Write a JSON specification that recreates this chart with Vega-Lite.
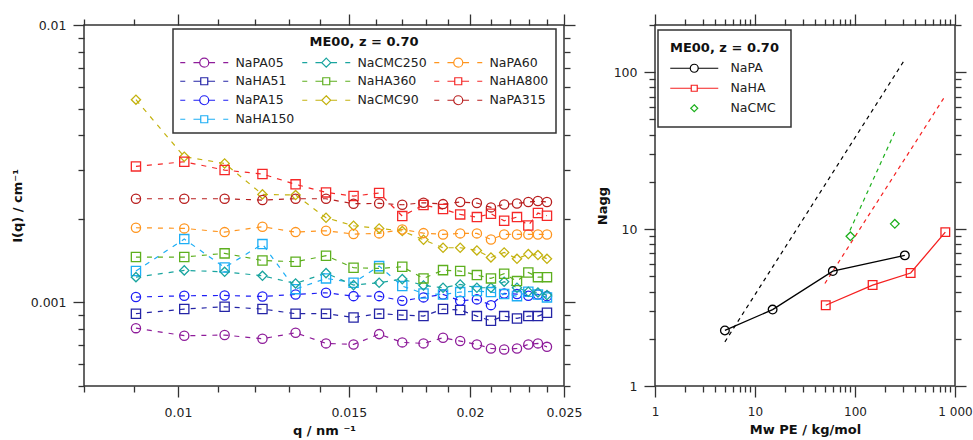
{
"$schema": "https://vega.github.io/schema/vega-lite/v6.json",
"background": "white",
"padding": {"left": 10, "top": 12, "right": 0, "bottom": 0},
"spacing": 12,
"config": {
  "font": "DejaVu Sans",
  "view": {"stroke": "#333333", "strokeWidth": 1.5},
  "axis": {"grid": false, "domain": false, "tickColor": "#333333", "tickWidth": 1.3, "labelFont": "DejaVu Sans", "labelFontSize": 12.5, "labelColor": "#222222", "titleFont": "DejaVu Sans", "titleFontSize": 13, "titleFontWeight": "bold", "titleColor": "#111111", "labelFlush": false, "labelOverlap": false},
  "legend": {"strokeWidth": 1.5, "labelFont": "DejaVu Sans", "labelFontSize": 12.5, "labelColor": "#222222", "titleFont": "DejaVu Sans", "titleFontSize": 13, "titleFontWeight": "bold", "titleColor": "#111111"}
},
"datasets": {
  "iq": [
    {"q":0.00905,"NaPA05":0.000808,"NaHA51":0.000911,"NaPA15":0.001046,"NaHA150":0.001298,"NaCMC250":0.001234,"NaHA360":0.001458,"NaCMC90":0.005379,"NaPA60":0.001859,"NaHA800":0.003093,"NaPA315":0.002365},
    {"q":0.01015,"NaPA05":0.000759,"NaHA51":0.000947,"NaPA15":0.001057,"NaHA150":0.001692,"NaCMC250":0.001305,"NaHA360":0.001458,"NaCMC90":0.003351,"NaPA60":0.001849,"NaHA800":0.003215,"NaPA315":0.002365},
    {"q":0.01117,"NaPA05":0.000763,"NaHA51":0.000965,"NaPA15":0.00106,"NaHA150":0.001337,"NaCMC250":0.00129,"NaHA360":0.001503,"NaCMC90":0.003171,"NaPA60":0.001793,"NaHA800":0.003001,"NaPA315":0.002365},
    {"q":0.01222,"NaPA05":0.00074,"NaHA51":0.000947,"NaPA15":0.001051,"NaHA150":0.001623,"NaCMC250":0.001248,"NaHA360":0.001417,"NaCMC90":0.002452,"NaPA60":0.001875,"NaHA800":0.002903,"NaPA315":0.002339},
    {"q":0.01322,"NaPA05":0.000778,"NaHA51":0.000911,"NaPA15":0.001069,"NaHA150":0.001117,"NaCMC250":0.001171,"NaHA360":0.001402,"NaCMC90":0.002438,"NaPA60":0.001793,"NaHA800":0.002665,"NaPA315":0.002365},
    {"q":0.01421,"NaPA05":0.000712,"NaHA51":0.000911,"NaPA15":0.001084,"NaHA150":0.001221,"NaCMC250":0.001276,"NaHA360":0.001474,"NaCMC90":0.00202,"NaPA60":0.001813,"NaHA800":0.002493,"NaPA315":0.002365},
    {"q":0.01517,"NaPA05":0.000706,"NaHA51":0.000883,"NaPA15":0.001054,"NaHA150":0.001178,"NaCMC250":0.001155,"NaHA360":0.001334,"NaCMC90":0.00189,"NaPA60":0.001764,"NaHA800":0.002418,"NaPA315":0.002269},
    {"q":0.01612,"NaPA05":0.000769,"NaHA51":0.000911,"NaPA15":0.001054,"NaHA150":0.001352,"NaCMC250":0.001178,"NaHA360":0.001326,"NaCMC90":0.001849,"NaPA60":0.001774,"NaHA800":0.002479,"NaPA315":0.002275},
    {"q":0.01703,"NaPA05":0.000718,"NaHA51":0.000901,"NaPA15":0.001014,"NaHA150":0.001146,"NaCMC250":0.001214,"NaHA360":0.001345,"NaCMC90":0.001809,"NaPA60":0.001833,"NaHA800":0.002048,"NaPA315":0.00225},
    {"q":0.01791,"NaPA05":0.000712,"NaHA51":0.000893,"NaPA15":0.001043,"NaHA150":0.001078,"NaCMC250":0.001152,"NaHA360":0.001221,"NaCMC90":0.001683,"NaPA60":0.001778,"NaHA800":0.002244,"NaPA315":0.002288},
    {"q":0.01876,"NaPA05":0.000746,"NaHA51":0.000947,"NaPA15":0.001069,"NaHA150":0.001069,"NaCMC250":0.00113,"NaHA360":0.001308,"NaCMC90":0.001575,"NaPA60":0.001759,"NaHA800":0.002171,"NaPA315":0.002262},
    {"q":0.01954,"NaPA05":0.000726,"NaHA51":0.000939,"NaPA15":0.001014,"NaHA150":0.00109,"NaCMC250":0.001161,"NaHA360":0.001298,"NaCMC90":0.001575,"NaPA60":0.001774,"NaHA800":0.002077,"NaPA315":0.002301},
    {"q":0.02033,"NaPA05":0.000706,"NaHA51":0.000893,"NaPA15":0.001026,"NaHA150":0.001099,"NaCMC250":0.00113,"NaHA360":0.001255,"NaCMC90":0.00154,"NaPA60":0.001774,"NaHA800":0.002031,"NaPA315":0.002282},
    {"q":0.02102,"NaPA05":0.000683,"NaHA51":0.000859,"NaPA15":0.000978,"NaHA150":0.00109,"NaCMC250":0.00113,"NaHA360":0.001221,"NaCMC90":0.001453,"NaPA60":0.001687,"NaHA800":0.002088,"NaPA315":0.002201},
    {"q":0.02169,"NaPA05":0.000677,"NaHA51":0.000893,"NaPA15":0.001078,"NaHA150":0.001072,"NaCMC250":0.001188,"NaHA360":0.001269,"NaCMC90":0.001515,"NaPA60":0.001759,"NaHA800":0.00197,"NaPA315":0.002256},
    {"q":0.02236,"NaPA05":0.000683,"NaHA51":0.000876,"NaPA15":0.001072,"NaHA150":0.001054,"NaCMC250":0.00113,"NaHA360":0.001194,"NaCMC90":0.001437,"NaPA60":0.001759,"NaHA800":0.002031,"NaPA315":0.002275},
    {"q":0.02297,"NaPA05":0.000706,"NaHA51":0.000893,"NaPA15":0.001057,"NaHA150":0.001093,"NaCMC250":0.001093,"NaHA360":0.001283,"NaCMC90":0.001494,"NaPA60":0.001759,"NaHA800":0.001895,"NaPA315":0.002301},
    {"q":0.0235,"NaPA05":0.000712,"NaHA51":0.000893,"NaPA15":0.001069,"NaHA150":0.001069,"NaCMC250":0.001087,"NaHA360":0.001234,"NaCMC90":0.001482,"NaPA60":0.001759,"NaHA800":0.0021,"NaPA315":0.00232},
    {"q":0.02401,"NaPA05":0.000692,"NaHA51":0.000918,"NaPA15":0.001054,"NaHA150":0.001043,"NaCMC250":0.001063,"NaHA360":0.001234,"NaCMC90":0.001437,"NaPA60":0.001759,"NaHA800":0.002054,"NaPA315":0.002301}
  ],
  "nagg": [
    {"g":"NaPA","Mw":5,"N":2.26},{"g":"NaPA","Mw":15,"N":3.07},{"g":"NaPA","Mw":60,"N":5.4},{"g":"NaPA","Mw":315,"N":6.8},
    {"g":"NaHA","Mw":51,"N":3.27},{"g":"NaHA","Mw":150,"N":4.4},{"g":"NaHA","Mw":360,"N":5.25},{"g":"NaHA","Mw":800,"N":9.57},
    {"g":"NaCMC","Mw":90,"N":9.0},{"g":"NaCMC","Mw":250,"N":10.8}
  ],
  "fit": [
    {"g":"NaPA","Mw":5,"N":1.91},{"g":"NaPA","Mw":311,"N":119},
    {"g":"NaHA","Mw":50,"N":4.5},{"g":"NaHA","Mw":794,"N":70.3},
    {"g":"NaCMC","Mw":89,"N":9.8},{"g":"NaCMC","Mw":251,"N":41.7}
  ]
},
"hconcat": [
  {
    "width": 480, "height": 361,
    "data": {"name": "iq"},
    "transform": [{"fold": ["NaPA05","NaHA51","NaPA15","NaHA150","NaCMC250","NaHA360","NaCMC90","NaPA60","NaHA800","NaPA315"], "as": ["s","I"]}],
    "layer": [
      {"mark": {"type": "line", "strokeDash": [5,6], "strokeWidth": 1.2},
       "encoding": {
         "x": {"field": "q", "type": "quantitative", "scale": {"type": "log", "domain": [0.008,0.025], "nice": false}, "axis": {"orient": "bottom", "values": [0.01,0.015,0.02,0.025], "tickSize": 11, "format": "~g", "labelPadding": 9, "title": "q / nm ⁻¹", "titlePadding": 6}},
         "y": {"field": "I", "type": "quantitative", "scale": {"type": "log", "domain": [0.0005,0.01], "nice": false}, "axis": {"orient": "left", "values": [0.001,0.01], "tickSize": 11, "format": "~g", "labelPadding": 7, "title": "I(q) / cm⁻¹", "titlePadding": 6}},
         "color": {"field": "s", "type": "nominal", "scale": {"domain": ["NaPA05","NaHA51","NaPA15","NaHA150","NaCMC250","NaHA360","NaCMC90","NaPA60","NaHA800","NaPA315"], "range": ["#8E1C9A","#2424A6","#1E1EF5","#1EAEF5","#1AA59F","#5DAF1E","#C4B20F","#FF951E","#F52828","#B81E1E"]}, "legend": null}
       }},
      {"mark": {"type": "point", "filled": false, "opacity": 1, "size": 85, "strokeWidth": 1.3},
       "encoding": {
         "x": {"field": "q", "type": "quantitative", "scale": {"type": "log", "domain": [0.008,0.025], "nice": false}, "axis": {"orient": "bottom", "values": [0.008,0.009,0.011,0.012,0.013,0.014,0.016,0.017,0.018,0.019,0.021,0.022,0.023,0.024], "tickSize": 6, "labels": false, "title": null}},
         "y": {"field": "I", "type": "quantitative", "scale": {"type": "log", "domain": [0.0005,0.01], "nice": false}, "axis": {"orient": "left", "values": [0.0005,0.0006,0.0007,0.0008,0.0009,0.002,0.003,0.004,0.005,0.006,0.007,0.008,0.009], "tickSize": 6, "labels": false, "title": null}},
         "color": {"field": "s", "type": "nominal", "scale": {"domain": ["NaPA05","NaHA51","NaPA15","NaHA150","NaCMC250","NaHA360","NaCMC90","NaPA60","NaHA800","NaPA315"], "range": ["#8E1C9A","#2424A6","#1E1EF5","#1EAEF5","#1AA59F","#5DAF1E","#C4B20F","#FF951E","#F52828","#B81E1E"]}, "legend": null},
         "shape": {"field": "s", "type": "nominal", "scale": {"domain": ["NaPA05","NaHA51","NaPA15","NaHA150","NaCMC250","NaHA360","NaCMC90","NaPA60","NaHA800","NaPA315"], "range": ["circle","square","circle","square","diamond","square","diamond","circle","square","circle"]}, "legend": null}
       }},
      {"mark": {"type": "point", "opacity": 0},
       "encoding": {
         "x": {"field": "q", "type": "quantitative", "scale": {"type": "log", "domain": [0.008,0.025], "nice": false}, "axis": {"orient": "top", "values": [0.01,0.015,0.02,0.025], "tickSize": 11, "labels": false, "title": null}},
         "y": {"field": "I", "type": "quantitative", "scale": {"type": "log", "domain": [0.0005,0.01], "nice": false}, "axis": {"orient": "right", "values": [0.001,0.01], "tickSize": 11, "labels": false, "title": null}}
       }},
      {"mark": {"type": "point", "opacity": 0},
       "encoding": {
         "x": {"field": "q", "type": "quantitative", "scale": {"type": "log", "domain": [0.008,0.025], "nice": false}, "axis": {"orient": "top", "values": [0.008,0.009,0.011,0.012,0.013,0.014,0.016,0.017,0.018,0.019,0.021,0.022,0.023,0.024], "tickSize": 6, "labels": false, "title": null}},
         "y": {"field": "I", "type": "quantitative", "scale": {"type": "log", "domain": [0.0005,0.01], "nice": false}, "axis": {"orient": "right", "values": [0.0005,0.0006,0.0007,0.0008,0.0009,0.002,0.003,0.004,0.005,0.006,0.007,0.008,0.009], "tickSize": 6, "labels": false, "title": null}}
       }},
      {"mark": {"type": "point", "filled": false, "opacity": 1, "size": 100, "strokeWidth": 1.2, "clip": true},
       "encoding": {
         "x": {"datum": 0.002, "type": "quantitative", "scale": {"type": "log", "domain": [0.008,0.025], "nice": false}, "axis": null},
         "y": {"datum": 0.002, "type": "quantitative", "scale": {"type": "log", "domain": [0.0005,0.01], "nice": false}, "axis": null},
         "color": {"field": "s", "type": "nominal", "scale": {"domain": ["NaPA05","NaCMC250","NaPA60","NaHA51","NaHA360","NaHA800","NaPA15","NaCMC90","NaPA315","NaHA150"], "range": ["#8E1C9A","#1AA59F","#FF951E","#2424A6","#5DAF1E","#F52828","#1E1EF5","#C4B20F","#B81E1E","#1EAEF5"]},
           "legend": {"orient": "none", "legendX": 89, "legendY": 4, "direction": "horizontal", "columns": 3, "title": "ME00, z = 0.70", "titleAnchor": "middle", "titleAlign": "center", "titlePadding": 7, "strokeColor": "#333333", "fillColor": "white", "padding": 7, "labelOffset": 43, "columnPadding": 4, "rowPadding": 5, "symbolStrokeWidth": 1.2, "symbolSize": 100}},
         "shape": {"field": "s", "type": "nominal", "scale": {"domain": ["NaPA05","NaCMC250","NaPA60","NaHA51","NaHA360","NaHA800","NaPA15","NaCMC90","NaPA315","NaHA150"], "range": [
           "M-1.2,0L-0.2,0M1.44,0L2.7,0M4.5,0L5.76,0M7.4,0L8.4,0M4.5,0A0.9,0.9,0,1,1,2.7,0A0.9,0.9,0,1,1,4.5,0Z",
           "M-1.2,0L-0.2,0M1.44,0L2.7,0M4.5,0L5.76,0M7.4,0L8.4,0M3.6,-0.9L4.5,0L3.6,0.9L2.7,0Z",
           "M-1.2,0L-0.2,0M1.44,0L2.7,0M4.5,0L5.76,0M7.4,0L8.4,0M4.5,0A0.9,0.9,0,1,1,2.7,0A0.9,0.9,0,1,1,4.5,0Z",
           "M-1.2,0L-0.2,0M1.44,0L2.9,0M4.3,0L5.76,0M7.4,0L8.4,0M2.9,-0.7L4.3,-0.7L4.3,0.7L2.9,0.7Z",
           "M-1.2,0L-0.2,0M1.44,0L2.9,0M4.3,0L5.76,0M7.4,0L8.4,0M2.9,-0.7L4.3,-0.7L4.3,0.7L2.9,0.7Z",
           "M-1.2,0L-0.2,0M1.44,0L2.9,0M4.3,0L5.76,0M7.4,0L8.4,0M2.9,-0.7L4.3,-0.7L4.3,0.7L2.9,0.7Z",
           "M-1.2,0L-0.2,0M1.44,0L2.7,0M4.5,0L5.76,0M7.4,0L8.4,0M4.5,0A0.9,0.9,0,1,1,2.7,0A0.9,0.9,0,1,1,4.5,0Z",
           "M-1.2,0L-0.2,0M1.44,0L2.7,0M4.5,0L5.76,0M7.4,0L8.4,0M3.6,-0.9L4.5,0L3.6,0.9L2.7,0Z",
           "M-1.2,0L-0.2,0M1.44,0L2.7,0M4.5,0L5.76,0M7.4,0L8.4,0M4.5,0A0.9,0.9,0,1,1,2.7,0A0.9,0.9,0,1,1,4.5,0Z",
           "M-1.2,0L-0.2,0M1.44,0L2.9,0M4.3,0L5.76,0M7.4,0L8.4,0M2.9,-0.7L4.3,-0.7L4.3,0.7L2.9,0.7Z"]},
           "legend": {"orient": "none", "legendX": 89, "legendY": 4, "direction": "horizontal", "columns": 3, "title": "ME00, z = 0.70", "titleAnchor": "middle", "titleAlign": "center", "titlePadding": 7, "strokeColor": "#333333", "fillColor": "white", "padding": 7, "labelOffset": 43, "columnPadding": 4, "rowPadding": 5, "symbolStrokeWidth": 1.2, "symbolSize": 100}}
       }}
    ],
    "resolve": {"scale": {"color": "independent", "shape": "independent"}, "axis": {"x": "independent", "y": "independent"}}
  },
  {
    "width": 300, "height": 361,
    "layer": [
      {"data": {"name": "fit"},
       "mark": {"type": "line", "strokeDash": [4,4], "strokeWidth": 1.2},
       "encoding": {
         "x": {"field": "Mw", "type": "quantitative", "scale": {"type": "log", "domain": [1,1000], "nice": false}, "axis": {"orient": "bottom", "values": [1,10,100,1000], "tickSize": 11, "format": "~g", "labelExpr": "datum.value >= 1000 ? '1 000' : datum.label", "labelFontSize": 12, "labelPadding": 9, "title": "Mw PE / kg/mol", "titlePadding": 6}},
         "y": {"field": "N", "type": "quantitative", "scale": {"type": "log", "domain": [1,200], "nice": false}, "axis": {"orient": "left", "values": [1,10,100], "tickSize": 11, "format": "~g", "labelPadding": 7, "title": "Nagg", "titlePadding": 4}},
         "color": {"field": "g", "type": "nominal", "scale": {"domain": ["NaPA","NaHA","NaCMC"], "range": ["#000000","#F52020","#1DB01D"]}, "legend": null}
       }},
      {"data": {"name": "nagg"},
       "transform": [{"filter": "datum.g != 'NaCMC'"}],
       "mark": {"type": "line", "strokeWidth": 1.3},
       "encoding": {
         "x": {"field": "Mw", "type": "quantitative", "scale": {"type": "log", "domain": [1,1000], "nice": false}, "axis": {"orient": "bottom", "values": [2,3,4,5,6,7,8,9,20,30,40,50,60,70,80,90,200,300,400,500,600,700,800,900], "tickSize": 6, "labels": false, "title": null}},
         "y": {"field": "N", "type": "quantitative", "scale": {"type": "log", "domain": [1,200], "nice": false}, "axis": {"orient": "left", "values": [2,3,4,5,6,7,8,9,20,30,40,50,60,70,80,90,200], "tickSize": 6, "labels": false, "title": null}},
         "color": {"field": "g", "type": "nominal", "scale": {"domain": ["NaPA","NaHA","NaCMC"], "range": ["#000000","#F52020","#1DB01D"]}, "legend": null}
       }},
      {"data": {"name": "nagg"},
       "mark": {"type": "point", "filled": false, "opacity": 1, "size": 75, "strokeWidth": 1.3},
       "encoding": {
         "x": {"field": "Mw", "type": "quantitative", "scale": {"type": "log", "domain": [1,1000], "nice": false}, "axis": {"orient": "top", "values": [1,10,100,1000], "tickSize": 11, "labels": false, "title": null}},
         "y": {"field": "N", "type": "quantitative", "scale": {"type": "log", "domain": [1,200], "nice": false}, "axis": {"orient": "right", "values": [1,10,100], "tickSize": 11, "labels": false, "title": null}},
         "color": {"field": "g", "type": "nominal", "scale": {"domain": ["NaPA","NaHA","NaCMC"], "range": ["#000000","#F52020","#1DB01D"]}, "legend": null},
         "shape": {"field": "g", "type": "nominal", "scale": {"domain": ["NaPA","NaHA","NaCMC"], "range": ["circle","square","diamond"]}, "legend": null}
       }},
      {"data": {"name": "nagg"},
       "mark": {"type": "point", "opacity": 0},
       "encoding": {
         "x": {"field": "Mw", "type": "quantitative", "scale": {"type": "log", "domain": [1,1000], "nice": false}, "axis": {"orient": "top", "values": [2,3,4,5,6,7,8,9,20,30,40,50,60,70,80,90,200,300,400,500,600,700,800,900], "tickSize": 6, "labels": false, "title": null}},
         "y": {"field": "N", "type": "quantitative", "scale": {"type": "log", "domain": [1,200], "nice": false}, "axis": {"orient": "right", "values": [2,3,4,5,6,7,8,9,20,30,40,50,60,70,80,90,200], "tickSize": 6, "labels": false, "title": null}}
       }},
      {"data": {"name": "nagg"},
       "mark": {"type": "point", "filled": false, "opacity": 1, "size": 100, "strokeWidth": 1.2, "clip": true},
       "encoding": {
         "x": {"datum": 0.1, "type": "quantitative", "scale": {"type": "log", "domain": [1,1000], "nice": false}, "axis": null},
         "y": {"datum": 5, "type": "quantitative", "scale": {"type": "log", "domain": [1,200], "nice": false}, "axis": null},
         "color": {"field": "g", "type": "nominal", "scale": {"domain": ["NaPA","NaHA","NaCMC"], "range": ["#000000","#F52020","#1DB01D"]},
           "legend": {"orient": "none", "legendX": 3, "legendY": 5, "direction": "vertical", "title": "ME00, z = 0.70", "titleAnchor": "start", "titlePadding": 7, "strokeColor": "#333333", "fillColor": "white", "padding": 12, "labelOffset": 48, "rowPadding": 7, "symbolStrokeWidth": 1.2, "symbolSize": 100}},
         "shape": {"field": "g", "type": "nominal", "scale": {"domain": ["NaPA","NaHA","NaCMC"], "range": [
           "M-1.2,0L2.8,0M4.4,0L8.4,0M4.4,0A0.8,0.8,0,1,1,2.8,0A0.8,0.8,0,1,1,4.4,0Z",
           "M-1.2,0L3,0M4.2,0L8.4,0M3,-0.6L4.2,-0.6L4.2,0.6L3,0.6Z",
           "M3.6,-0.7L4.3,0L3.6,0.7L2.9,0Z"]},
           "legend": {"orient": "none", "legendX": 3, "legendY": 5, "direction": "vertical", "title": "ME00, z = 0.70", "titleAnchor": "start", "titlePadding": 7, "strokeColor": "#333333", "fillColor": "white", "padding": 12, "labelOffset": 48, "rowPadding": 7, "symbolStrokeWidth": 1.2, "symbolSize": 100}}
       }}
    ],
    "resolve": {"scale": {"color": "independent", "shape": "independent"}, "axis": {"x": "independent", "y": "independent"}}
  }
]
}
